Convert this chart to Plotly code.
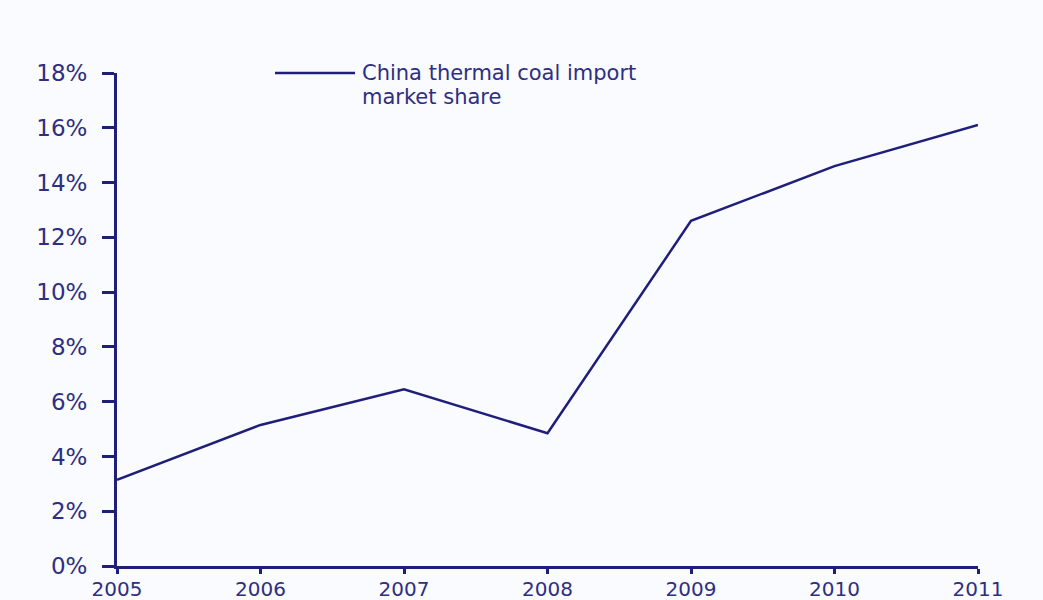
import plotly.graph_objects as go

# China thermal coal import market share, by year
years = [2005, 2006, 2007, 2008, 2009, 2010, 2011]
share_pct = [3.15, 5.15, 6.45, 4.85, 12.6, 14.6, 16.1]
y_ticks = [0, 2, 4, 6, 8, 10, 12, 14, 16, 18]
y_tick_labels = [f"{v}%" for v in y_ticks]
legend_lines = ["China thermal coal import", "market share"]

NAVY = "#1f1f7a"
TEXT = "#2e2e82"
FONT = "DejaVu Sans, Verdana, sans-serif"

fig = go.Figure()
fig.add_trace(go.Scatter(
    x=years, y=share_pct, mode="lines",
    line=dict(color=NAVY, width=2.5),
    showlegend=False, cliponaxis=False,
))

fig.update_layout(
    width=1043, height=600,
    margin=dict(l=117, r=65, t=73, b=34),
    paper_bgcolor="#fafbfe", plot_bgcolor="#fafbfe",
    font=dict(family=FONT, color=TEXT, size=21),
    xaxis=dict(
        range=[2005, 2011], tickmode="array", tickvals=years,
        ticktext=[str(y) for y in years], automargin=False,
        showgrid=False, zeroline=False, showline=True, linecolor=NAVY, linewidth=3,
        ticks="outside", ticklen=5, tickwidth=2.5, tickcolor=NAVY,
        tickfont=dict(size=20, color=TEXT), ticklabelstandoff=-2,
    ),
    yaxis=dict(
        range=[0, 18], tickmode="array", tickvals=y_ticks, ticktext=y_tick_labels,
        automargin=False,
        showgrid=False, zeroline=False, showline=True, linecolor=NAVY, linewidth=3,
        ticks="outside", ticklen=12, tickwidth=2.5, tickcolor=NAVY,
        tickfont=dict(size=23, color=TEXT), ticklabelstandoff=10,
    ),
)

# Legend key: a short line plus a two-line label
fig.add_shape(type="line", xref="paper", yref="paper",
              x0=(275 - 117) / 861, x1=(355 - 117) / 861, y0=1.0, y1=1.0,
              line=dict(color=NAVY, width=2.5))
for i, line in enumerate(legend_lines):
    fig.add_annotation(xref="paper", yref="paper", x=(360 - 117) / 861, y=1.0,
                       xanchor="left", yanchor="middle", yshift=-24 * i,
                       text=line, showarrow=False,
                       font=dict(size=21, color=TEXT, family=FONT))

fig.write_html("out.html")
